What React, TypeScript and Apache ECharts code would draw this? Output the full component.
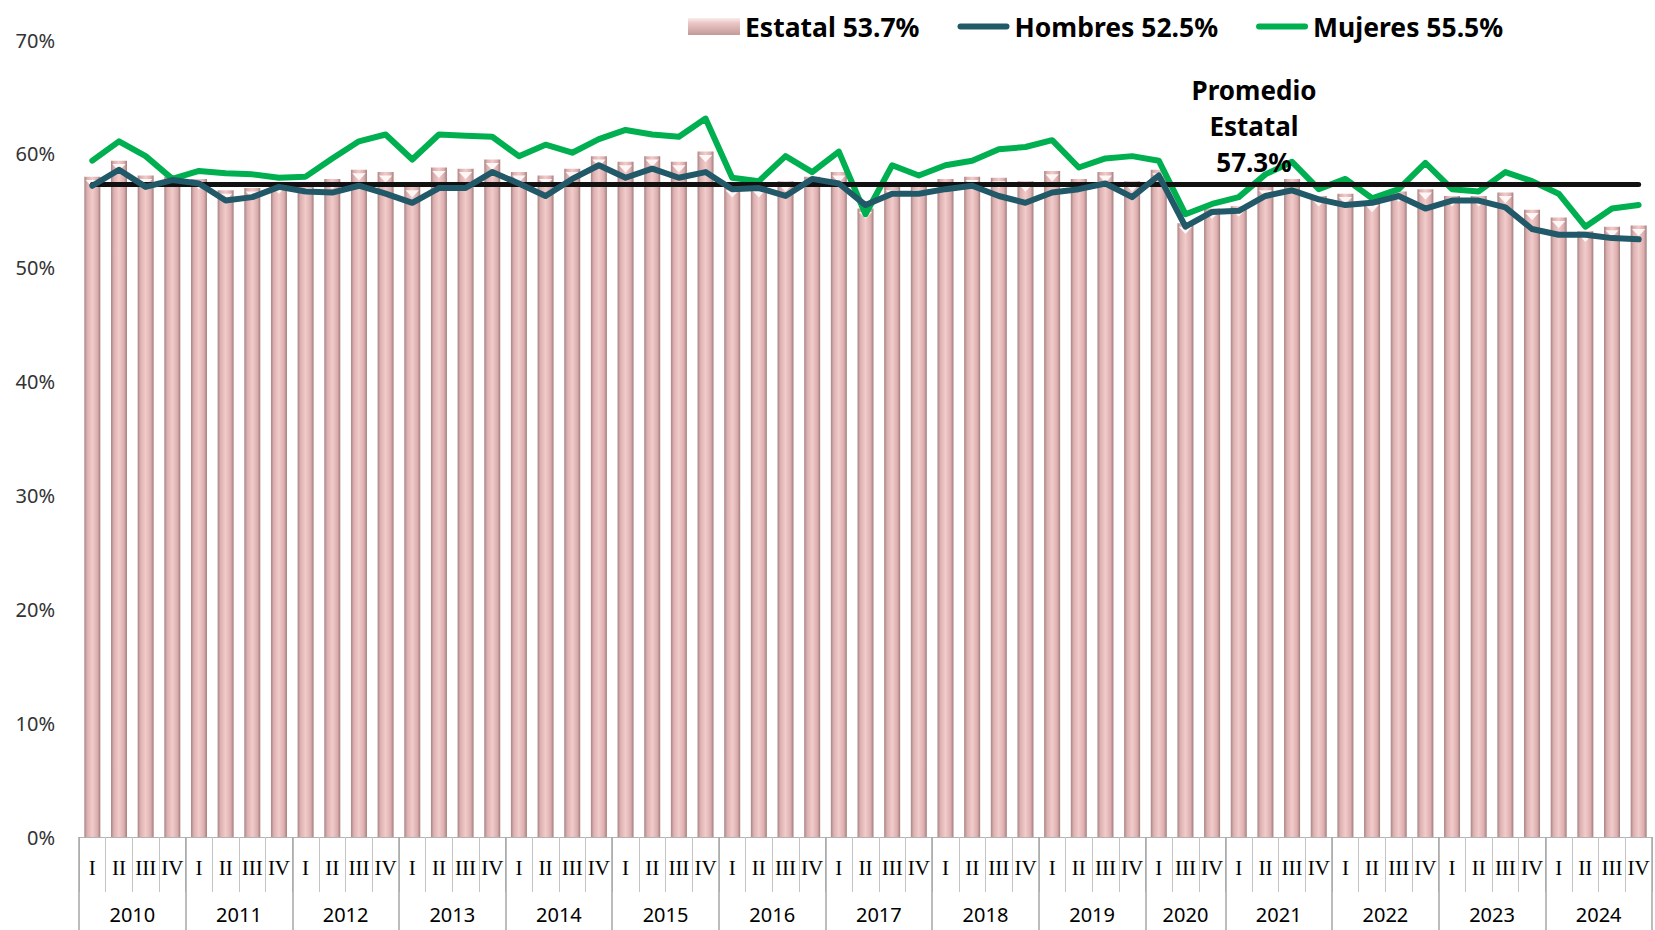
import React, { useEffect, useRef } from "react";
import * as echarts from "echarts";

const years = ["2010", "2011", "2012", "2013", "2014", "2015", "2016", "2017", "2018", "2019", "2020", "2021", "2022", "2023", "2024"];
const quartersPerYear = [4, 4, 4, 4, 4, 4, 4, 4, 4, 4, 3, 4, 4, 4, 4];
const quarters = [
  "I", "II", "III", "IV", "I", "II", "III", "IV", "I", "II", "III", "IV", "I", "II", "III", "IV",
  "I", "II", "III", "IV", "I", "II", "III", "IV", "I", "II", "III", "IV", "I", "II", "III", "IV",
  "I", "II", "III", "IV", "I", "II", "III", "IV", "I", "III", "IV", "I", "II", "III", "IV",
  "I", "II", "III", "IV", "I", "II", "III", "IV", "I", "II", "III", "IV",
];
const estatal = [
  58.0, 59.4, 58.1, 58.0, 57.8, 56.8, 57.0, 57.4, 57.3, 57.8, 58.6, 58.4, 57.1, 58.8, 58.7, 59.5,
  58.4, 58.1, 58.7, 59.8, 59.3, 59.8, 59.3, 60.2, 57.1, 57.1, 57.6, 58.0, 58.4, 55.2, 57.1, 57.1,
  57.8, 58.0, 57.9, 57.6, 58.5, 57.8, 58.4, 57.6, 58.6, 53.9, 55.2, 55.4, 57.1, 57.8, 56.3,
  56.5, 55.8, 56.7, 56.9, 56.3, 56.3, 56.6, 55.1, 54.4, 53.2, 53.6, 53.7,
];
const hombres = [
  57.2, 58.6, 57.1, 57.7, 57.4, 55.9, 56.2, 57.1, 56.7, 56.6, 57.2, 56.5, 55.7, 57.0, 57.0, 58.4,
  57.4, 56.3, 57.8, 59.0, 57.9, 58.7, 57.9, 58.4, 56.9, 57.0, 56.3, 57.8, 57.4, 55.5, 56.5, 56.5,
  56.9, 57.2, 56.3, 55.7, 56.6, 56.9, 57.4, 56.2, 58.1, 53.6, 54.9, 55.0, 56.3, 56.8, 56.0,
  55.5, 55.7, 56.3, 55.2, 55.9, 55.9, 55.3, 53.4, 52.9, 52.9, 52.6, 52.5,
];
const mujeres = [
  59.4, 61.1, 59.8, 57.8, 58.5, 58.3, 58.2, 57.9, 58.0, 59.6, 61.1, 61.7, 59.5, 61.7, 61.6, 61.5,
  59.8, 60.8, 60.1, 61.3, 62.1, 61.7, 61.5, 63.1, 57.9, 57.6, 59.8, 58.4, 60.2, 54.7, 59.0, 58.1,
  59.0, 59.4, 60.4, 60.6, 61.2, 58.8, 59.6, 59.8, 59.4, 54.7, 55.6, 56.2, 58.2, 59.3, 56.9,
  57.8, 56.1, 56.9, 59.2, 56.9, 56.7, 58.4, 57.6, 56.5, 53.6, 55.2, 55.5,
];
const promedioEstatal = 57.3;
const yTicks = [0, 10, 20, 30, 40, 50, 60, 70];

const lineIcon = "path://M3,0 L49,0 A3,3 0 0 1 49,6 L3,6 A3,3 0 0 1 3,0 Z";

export default function App() {
  const ref = useRef<HTMLDivElement>(null);
  useEffect(() => {
    if (!ref.current) return;
    const chart = echarts.init(ref.current, null, { renderer: "svg" });
    const n = quarters.length;
    const cats = quarters.map((q, i) => String(i));
    const yearPts: string[] = new Array(2 * n + 1).fill("");
    const yearBounds = new Set<number>();
    let start = 0;
    years.forEach((y, i) => {
      yearBounds.add(2 * start);
      yearPts[2 * start + quartersPerYear[i]] = y;
      start += quartersPerYear[i];
    });
    yearBounds.add(2 * start);
    const last = n - 1;
    const nameE = `Estatal ${estatal[last].toFixed(1)}%`;
    const nameH = `Hombres ${hombres[last].toFixed(1)}%`;
    const nameM = `Mujeres ${mujeres[last].toFixed(1)}%`;
    const barGrad = new echarts.graphic.LinearGradient(0, 0, 1, 0, [
      { offset: 0, color: "#a98383" },
      { offset: 0.18, color: "#dcb0b0" },
      { offset: 0.5, color: "#f2cbcb" },
      { offset: 0.82, color: "#dcaeae" },
      { offset: 1, color: "#a27c7c" },
    ]);
    const legendGrad = new echarts.graphic.LinearGradient(0, 0, 0, 1, [
      { offset: 0, color: "#fbeaea" },
      { offset: 0.35, color: "#e9c2c2" },
      { offset: 1, color: "#c39a9a" },
    ]);
    chart.setOption({
      animation: false,
      backgroundColor: "#ffffff",
      grid: { left: 79, right: 0, top: 40, bottom: 93, containLabel: false },
      legend: {
        data: [
          { name: nameE, icon: "rect", itemStyle: { color: legendGrad } },
          { name: nameH, icon: lineIcon },
          { name: nameM, icon: lineIcon },
        ],
        left: 683,
        top: 8,
        itemWidth: 52,
        itemHeight: 17,
        itemGap: 38,
        symbolKeepAspect: true,
        textStyle: { fontFamily: "Noto Sans", fontWeight: "bold", fontSize: 26.5, color: "#000" },
      },
      xAxis: [
        {
          type: "category",
          data: cats,
          position: "bottom",
          axisLine: { show: true, lineStyle: { color: "#b3b3b3", width: 1 } },
          axisTick: { show: true, length: 55, lineStyle: { color: "#c4c4c4", width: 1 } },
          axisLabel: {
            interval: 0,
            margin: 20,
            formatter: (v: string) => quarters[Number(v)],
            fontFamily: "Liberation Serif",
            fontSize: 21,
            color: "#000",
          },
        },
        {
          type: "category",
          data: yearPts,
          boundaryGap: false,
          position: "bottom",
          axisLine: { show: false },
          axisTick: {
            show: true,
            length: 93,
            interval: (idx: number) => yearBounds.has(idx),
            lineStyle: { color: "#a6a6a6", width: 1.5 },
          },
          axisLabel: {
            interval: 0,
            margin: 67,
            fontFamily: "Noto Sans",
            fontSize: 20,
            color: "#000",
          },
        },
      ],
      yAxis: {
        type: "value",
        min: yTicks[0],
        max: yTicks[yTicks.length - 1],
        interval: 10,
        axisLine: { show: false },
        axisTick: { show: false },
        splitLine: { show: false },
        axisLabel: {
          formatter: "{value}%",
          margin: 24,
          fontFamily: "Noto Sans",
          fontSize: 20,
          color: "#333",
        },
      },
      series: [
        {
          name: nameE,
          type: "bar",
          data: estatal,
          barWidth: 16,
          itemStyle: { color: barGrad },
          markLine: {
            silent: true,
            symbol: "none",
            label: { show: false },
            lineStyle: { color: "#111", width: 5, type: "solid", cap: "round" },
            data: [[{ coord: [cats[0], promedioEstatal] }, { coord: [cats[last], promedioEstatal] }]],
          },
          z: 2,
        },
        {
          name: "cap",
          type: "pictorialBar",
          data: estatal,
          symbol: "path://M0,0 L10,0 L5,6 Z",
          symbolSize: [13, 7],
          symbolPosition: "end",
          symbolOffset: [0, "50%"],
          itemStyle: { color: "#fff6f6" },
          z: 3,
          silent: true,
        },
        {
          name: nameH,
          type: "line",
          data: hombres,
          showSymbol: false,
          symbol: "none",
          lineStyle: { color: "#215968", width: 6, cap: "round", join: "round" },
          itemStyle: { color: "#215968" },
          z: 5,
        },
        {
          name: nameM,
          type: "line",
          data: mujeres,
          showSymbol: false,
          symbol: "none",
          lineStyle: { color: "#00b050", width: 6, cap: "round", join: "round" },
          itemStyle: { color: "#00b050" },
          z: 4,
        },
      ],
      graphic: [
        {
          type: "text",
          x: 1254,
          y: 72,
          z: 10,
          style: {
            text: `Promedio\nEstatal\n${promedioEstatal}%`,
            textAlign: "center",
            align: "center",
            fontFamily: "Noto Sans",
            fontWeight: "bold",
            fontSize: 26,
            lineHeight: 36,
            fill: "#000",
          },
        },
      ],
    });
    return () => chart.dispose();
  }, []);
  return <div ref={ref} style={{ position: "fixed", left: 0, top: 0, width: 1655, height: 930 }} />;
}
